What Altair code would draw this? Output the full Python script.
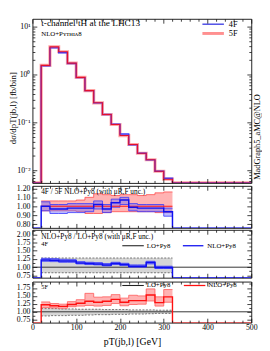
import altair as alt
import pandas as pd

SERIF = "Liberation Serif"

# ---------------- data ----------------
edges = [20, 40, 60, 80, 100, 120, 140, 160, 180, 200, 220, 240, 260, 280, 300, 320]
x_range = [0, 500]

# main panel: dsigma/dpT(j_b,l) [fb/bin]
xsec_4f = [1.52, 3.60, 2.85, 1.70, 0.86, 0.46, 0.255, 0.146, 0.092, 0.057, 0.0340, 0.0226, 0.0165, 0.0095, 0.0068]
xsec_5f = [1.55, 3.78, 2.99, 1.73, 0.87, 0.46, 0.256, 0.146, 0.090, 0.053, 0.0344, 0.0226, 0.0166, 0.0095, 0.0065]

# ratio panel 1: 4F / 5F (NLO+Py8) with scale uncertainties
r5_mid = [1.00, 1.00, 1.00, 1.00, 1.00, 1.00, 1.00, 1.00, 1.00, 1.00, 1.00, 1.00, 1.00, 1.00, 1.00]
r5_up = [1.06, 1.06, 1.06, 1.06, 1.07, 1.10, 1.14, 1.13, 1.12, 1.13, 1.13, 1.12, 1.13, 1.15, 1.16]
r5_dn = [0.95, 0.95, 0.95, 0.95, 0.94, 0.92, 0.92, 0.93, 0.94, 0.94, 0.94, 0.94, 0.94, 0.93, 0.93]
r4_mid = [1.00, 0.97, 0.97, 0.98, 0.98, 0.98, 1.02, 0.97, 1.04, 1.07, 0.99, 0.98, 0.98, 0.98, 0.94]
r4_up = [1.05, 1.02, 1.02, 1.03, 1.03, 1.03, 1.06, 1.02, 1.08, 1.10, 1.03, 1.02, 1.02, 1.02, 0.98]
r4_dn = [0.95, 0.92, 0.92, 0.93, 0.93, 0.94, 0.97, 0.93, 0.99, 1.02, 0.95, 0.94, 0.94, 0.94, 0.89]

# ratio panel 2: NLO/LO, 4F
lo4_up = [1.28, 1.28, 1.28, 1.28, 1.28, 1.28, 1.28, 1.28, 1.28, 1.28, 1.28, 1.28, 1.28, 1.28, 1.28]
lo4_dn = [0.83, 0.83, 0.83, 0.83, 0.83, 0.83, 0.83, 0.83, 0.83, 0.83, 0.83, 0.83, 0.83, 0.83, 0.83]
k4_mid = [1.22, 1.21, 1.19, 1.19, 1.13, 1.11, 1.10, 1.07, 1.11, 1.08, 1.03, 1.03, 1.14, 0.99, 0.99]
k4_up = [1.27, 1.26, 1.24, 1.23, 1.17, 1.15, 1.14, 1.11, 1.15, 1.12, 1.07, 1.07, 1.18, 1.03, 1.03]
k4_dn = [1.18, 1.17, 1.15, 1.15, 1.10, 1.08, 1.07, 1.04, 1.08, 1.05, 1.00, 1.00, 1.10, 0.96, 0.96]

# ratio panel 3: NLO/LO, 5F
lo5_up = [1.10, 1.10, 1.09, 1.09, 1.08, 1.08, 1.08, 1.07, 1.07, 1.07, 1.06, 1.06, 1.06, 1.05, 1.05]
lo5_dn = [0.87, 0.88, 0.88, 0.89, 0.89, 0.90, 0.91, 0.91, 0.92, 0.92, 0.93, 0.93, 0.94, 0.95, 0.95]
k5_mid = [1.22, 1.19, 1.17, 1.23, 1.27, 1.33, 1.30, 1.33, 1.39, 1.30, 1.35, 1.35, 1.53, 1.29, 1.47]
k5_up = [1.31, 1.26, 1.24, 1.32, 1.38, 1.58, 1.46, 1.47, 1.54, 1.43, 1.52, 1.50, 1.72, 1.47, 1.70]
k5_dn = [1.13, 1.12, 1.11, 1.16, 1.18, 1.20, 1.18, 1.20, 1.26, 1.19, 1.23, 1.24, 1.34, 1.18, 1.30]

ref_one = [1.0]

# ---------------- tables ----------------
def step_line(vals):
    xs = [x_range[0]] + edges + [x_range[1]]
    vs = [0.0] + list(vals) + [0.0, 0.0]
    return pd.DataFrame({"x": xs, "v": vs})


def step_band(lo, hi):
    return pd.DataFrame({"x": edges, "lo": list(lo) + [lo[-1]], "hi": list(hi) + [hi[-1]]})


def one(text):
    return pd.DataFrame({"t": [text]})


# ---------------- layout ----------------
W = 224
H_MAIN, H_R1, H_R2, H_R3 = 168, 43, 49, 42

XS = alt.Scale(domain=x_range, nice=False, zero=False)
X_TICKS = list(range(0, 501, 20))
X_MAJOR = [0, 100, 200, 300, 400, 500]
X_TEST = "datum.value % 100 === 0"


def tick_axis(orient, offset, values, test):
    return alt.Axis(orient=orient, offset=offset, values=values, labels=False, domain=False,
                    grid=False, ticks=True, tickColor="#111", tickWidth=0.8,
                    tickSize={"condition": {"test": test, "value": 4.5}, "value": 2.5},
                    title=None, zindex=3)


def carriers(df, yfield, yscale, ylab_axis, yticks, ytest, h, xlab_axis=None, calc=None):
    base = alt.Chart(df)
    if calc:
        base = base.transform_calculate(**calc)
    mk = base.mark_line(opacity=0)
    c1 = mk.encode(x=alt.X("x:Q", scale=XS, axis=xlab_axis),
                   y=alt.Y(f"{yfield}:Q", scale=yscale, axis=ylab_axis))
    c2 = mk.encode(x=alt.X("x:Q", scale=XS, axis=tick_axis("bottom", -h, X_TICKS, X_TEST)),
                   y=alt.Y(f"{yfield}:Q", scale=yscale, axis=tick_axis("right", -W, yticks, ytest)))
    c3 = mk.encode(x=alt.X("x:Q", scale=XS, axis=tick_axis("top", -h, X_TICKS, X_TEST)),
                   y=alt.Y(f"{yfield}:Q", scale=yscale, axis=tick_axis("left", -W, yticks, ytest)))
    return [c1, c2, c3]


def label_axis(values, fmt=None, label_expr=None, **kw):
    args = dict(orient="left", values=values, ticks=False, tickSize=0, domain=False, grid=False,
                labelPadding=2.5, labelFont=SERIF, labelFontSize=8, labelColor="black",
                labelOverlap=False)
    if fmt:
        args["format"] = fmt
    if label_expr:
        args["labelExpr"] = label_expr
    args.update(kw)
    if "title" not in args:
        args["title"] = None
    return alt.Axis(**args)


def text(t, x, y, size=8, align="left", angle=0, font=SERIF):
    return alt.Chart(one(t)).mark_text(align=align, baseline="middle", font=font, fontSize=size,
                                       color="black", angle=angle).encode(
        text="t:N", x=alt.value(x), y=alt.value(y))


def legend_rule(x1, x2, y, color, width, dash=None):
    props = dict(color=color, strokeWidth=width)
    if dash:
        props["strokeDash"] = dash
    return alt.Chart(one("")).mark_rule(**props).encode(
        x=alt.value(x1), x2=alt.value(x2), y=alt.value(y))


def step(df, yfield, yscale, color, width, calc=None, dash=None, opacity=1.0):
    base = alt.Chart(df)
    if calc:
        base = base.transform_calculate(**calc)
    props = dict(interpolate="step-after", color=color, strokeWidth=width, clip=True, opacity=opacity)
    if dash:
        props["strokeDash"] = dash
    return base.mark_line(**props).encode(
        x=alt.X("x:Q", scale=XS, axis=None),
        y=alt.Y(f"{yfield}:Q", scale=yscale, axis=None))


def band(lo, hi, yscale, fill, opacity=1.0):
    return alt.Chart(step_band(lo, hi)).mark_area(
        interpolate="step-after", color=fill, opacity=opacity, clip=True).encode(
        x=alt.X("x:Q", scale=XS, axis=None),
        y=alt.Y("lo:Q", scale=yscale, axis=None), y2="hi:Q")


def band_edges(lo, hi, yscale, color, width, dash=None):
    df = step_band(lo, hi)
    return [step(df, "lo", yscale, color, width, dash=dash),
            step(df, "hi", yscale, color, width, dash=dash)]


# ---------------- main panel ----------------
ys_main = alt.Scale(type="log", domain=[0.00543, 14.6], nice=False, clamp=True)
main_ticks = sorted({round(k * 10.0 ** d, 6) for d in range(-3, 2) for k in range(1, 10)
                     if 0.00543 <= k * 10.0 ** d <= 14.6})
log_test = "abs(log(datum.value)/LN10 - round(log(datum.value)/LN10)) < 0.01"
floor = {"vy": "max(datum.v, 1e-4)"}
main_lab = label_axis([0.01, 0.1, 1, 10],
                      label_expr="datum.value >= 5 ? '10¹' : datum.value >= 0.5 ? '10⁰' : datum.value >= 0.05 ? '10⁻¹' : '10⁻²'",
                      title="dσ/dpT(jb,l)   [fb/bin]", titleFont=SERIF, titleFontSize=9,
                      titleFontWeight="normal", titleColor="black", titleX=-20, titleY=91,
                      titleAngle=270, titleBaseline="middle", titleAlign="center")

df4 = step_line(xsec_4f)
df5 = step_line(xsec_5f)
main = alt.layer(
    step(df5, "vy", ys_main, "#ffa3a3", 3.2, calc=floor),
    step(df4, "vy", ys_main, "#3a3aff", 1.4, calc=floor),
    step(df5, "vy", ys_main, "#e3102e", 1.1, calc=floor),
    *carriers(df5, "vy", ys_main, main_lab, main_ticks, log_test, H_MAIN, calc=floor),
    text("t-channel tH   at the LHC13", 9, 4.5, size=9.5),
    text("NLO+Pʏᴛʜɪᴀ8", 9, 15.5, size=7),
    legend_rule(174, 196, 5.5, "#2020e0", 1.2),
    text("4F", 201, 5.5, size=8.5),
    legend_rule(174, 196, 15, "#ff9090", 3),
    text("5F", 201, 15, size=8.5),
    text("MadGraph5_aMC@NLO", 230, 121, size=8.5, align="center", angle=270),
).resolve_axis(x="independent", y="independent").properties(width=W, height=H_MAIN)

# ---------------- ratio 1 ----------------
ys_r1 = alt.Scale(domain=[0.76, 1.228], nice=False, clamp=True)
r1_ticks = [0.8, 0.85, 0.9, 0.95, 1.0, 1.05, 1.1, 1.15, 1.2]
r1_test = "abs(datum.value*10 - round(datum.value*10)) < 0.01"
r1_lab = label_axis([0.8, 0.9, 1.0, 1.1, 1.2], fmt=".2f")
df_r4 = step_line(r4_mid)
df_r5 = step_band(r5_mid, r5_mid)
r1 = alt.layer(
    band(r5_dn, r5_up, ys_r1, "#ffb3b3"),
    *band_edges(r5_dn, r5_up, ys_r1, "#ff4a4a", 0.8),
    band(r4_dn, r4_up, ys_r1, "#6a6aff", 0.45),
    *band_edges(r4_dn, r4_up, ys_r1, "#3434ff", 0.8),
    step(df_r5, "lo", ys_r1, "#ff1a1a", 1.1),
    step(df_r4, "v", ys_r1, "#1010f0", 1.5),
    *carriers(df_r4, "v", ys_r1, r1_lab, r1_ticks, r1_test, H_R1),
    text("4F / 5F  NLO+Py8   (with μR,F unc.)", 9, 6, size=7.5),
).resolve_axis(x="independent", y="independent").properties(width=W, height=H_R1)

# ---------------- ratio 2 (4F NLO/LO) ----------------
ys_r2 = alt.Scale(domain=[0.68, 2.14], nice=False, clamp=True)
r23_test = "abs(datum.value*4 - round(datum.value*4)) < 0.01"
r2_ticks = [0.75, 0.875, 1.0, 1.125, 1.25, 1.375, 1.5, 1.625, 1.75, 1.875, 2.0, 2.125]
r2_lab = label_axis([0.75, 1.0, 1.25, 1.5, 1.75, 2.0], fmt=".2f")
df_k4 = step_line(k4_mid)
df_ref = pd.DataFrame({"ref": ref_one})
r2 = alt.layer(
    band(lo4_dn, lo4_up, ys_r2, "#d6d6d6"),
    *band_edges(lo4_dn, lo4_up, ys_r2, "#555555", 0.8, dash=[2, 1.5]),
    alt.Chart(df_ref).mark_rule(color="#333333", strokeWidth=1).encode(
        y=alt.Y("ref:Q", scale=ys_r2, axis=None)),
    band(k4_dn, k4_up, ys_r2, "#6b6bff", 0.5),
    *band_edges(k4_dn, k4_up, ys_r2, "#3434ff", 0.8),
    step(df_k4, "v", ys_r2, "#1010f0", 1.5),
    *carriers(df_k4, "v", ys_r2, r2_lab, r2_ticks, r23_test, H_R2),
    text("NLO+Py8 / LO+Py8   (with μR,F unc.)", 9, 7, size=7.5),
    text("4F", 9, 14.7, size=6.5),
    legend_rule(92, 114, 16.3, "#222222", 1.1),
    text("LO+Py8", 117, 16.3, size=7),
    legend_rule(154, 175, 16.3, "#1010f0", 1.3),
    text("NLO+Py8", 179, 16.3, size=7),
).resolve_axis(x="independent", y="independent").properties(width=W, height=H_R2)

# ---------------- ratio 3 (5F NLO/LO) ----------------
ys_r3 = alt.Scale(domain=[0.66, 1.95], nice=False, clamp=True)
r3_ticks = [0.75, 0.875, 1.0, 1.125, 1.25, 1.375, 1.5, 1.625, 1.75, 1.875]
r3_lab = label_axis([0.75, 1.0, 1.25, 1.5, 1.75], fmt=".2f")
x_lab = alt.Axis(orient="bottom", values=X_MAJOR, format="d", ticks=False, tickSize=0, domain=False,
                 grid=False, labelPadding=1, labelFont=SERIF, labelFontSize=8, labelColor="black",
                 labelFlush=False, labelOverlap=False, title="pT(jb,l)   [GeV]", titleFont=SERIF,
                 titleFontSize=10, titleFontWeight="normal", titleColor="black", titleX=102, titleY=19,
                 titleBaseline="middle", titleAlign="center")
df_k5 = step_line(k5_mid)
r3 = alt.layer(
    band(lo5_dn, lo5_up, ys_r3, "#d6d6d6"),
    *band_edges(lo5_dn, lo5_up, ys_r3, "#555555", 0.8, dash=[2, 1.5]),
    alt.Chart(df_ref).mark_rule(color="#333333", strokeWidth=1).encode(
        y=alt.Y("ref:Q", scale=ys_r3, axis=None)),
    band(k5_dn, k5_up, ys_r3, "#ff9a9a", 0.75),
    *band_edges(k5_dn, k5_up, ys_r3, "#ff5a5a", 0.8),
    step(df_k5, "v", ys_r3, "#ff1010", 1.4),
    *carriers(df_k5, "v", ys_r3, r3_lab, r3_ticks, r23_test, H_R3, xlab_axis=x_lab),
    text("5F", 9, 5.5, size=6.5),
    legend_rule(92, 114, 4, "#222222", 1.1),
    text("LO+Py8", 117, 4, size=7),
    legend_rule(155, 177, 4, "#ff1010", 1.3),
    text("NLO+Py8", 180, 4, size=7),
).resolve_axis(x="independent", y="independent").properties(width=W, height=H_R3)

chart = alt.vconcat(main, r1, r2, r3, spacing=0).resolve_scale(
    x="independent", y="independent").properties(
    padding={"top": 6, "left": 0, "right": 0, "bottom": 0}).configure_view(
    stroke="#222222", strokeWidth=1).configure_axis(labelFont=SERIF)

chart.save("out.html", embed_options={"renderer": "svg", "actions": False})
